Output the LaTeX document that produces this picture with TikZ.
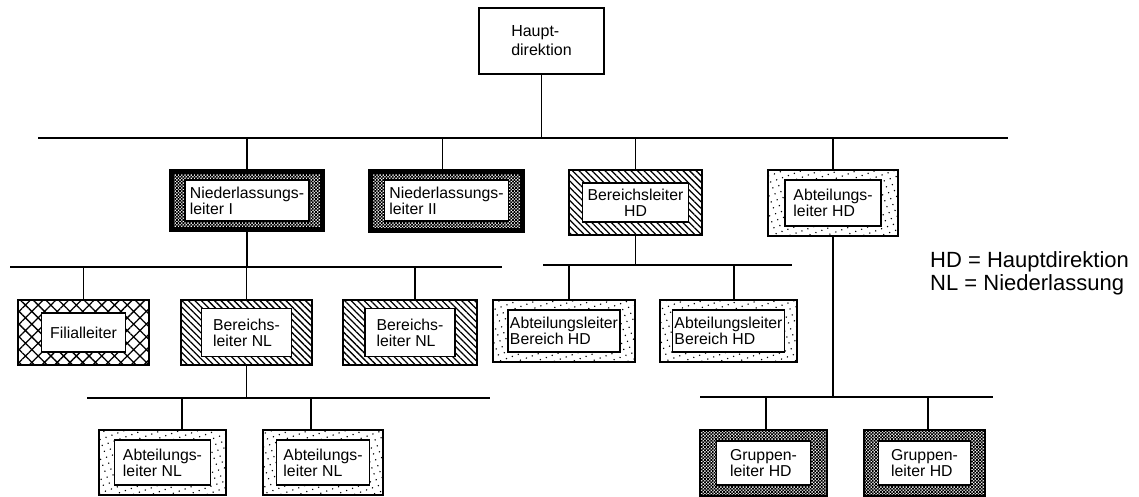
\documentclass[tikz,border=0pt]{standalone}
\usepackage{fontspec}
\setmainfont{Liberation Sans}
\usetikzlibrary{patterns,patterns.meta}

% fine dither used for the dark frames
\pgfdeclarepatternformonly{finechecker}{\pgfqpoint{-.1pt}{-.1pt}}{\pgfqpoint{3.3pt}{3.3pt}}{\pgfqpoint{3.2pt}{3.2pt}}{%
  \pgfpathrectangle{\pgfqpoint{0pt}{0pt}}{\pgfqpoint{1.85pt}{1.85pt}}%
  \pgfpathrectangle{\pgfqpoint{1.6pt}{1.6pt}}{\pgfqpoint{1.85pt}{1.85pt}}%
  \pgfusepath{fill}}

\newcommand\boxfont{\fontsize{15.8}{16.2}\selectfont}
\newcommand\legendfont{\fontsize{22}{23}\selectfont}

\begin{document}
\begin{tikzpicture}[x=1pt,y=-1pt,
  link/.style={line width=1.6pt},
  frame/.style={draw, line width=1.6pt, inner sep=0pt, outer sep=0pt},
  card/.style={draw, fill=white, line width=1.7pt, inner sep=2pt, align=left, font=\boxfont},
  darkframe/.style={frame, line width=5pt, pattern=finechecker},
  greyframe/.style={frame, pattern=finechecker},
  hatchframe/.style={frame, pattern={Lines[angle=-45,distance=4.6pt,line width=1.3pt]}},
  crossframe/.style={frame, pattern={Hatch[angle=45,distance=9pt,line width=1.3pt]}},
  dotframe/.style={frame, pattern={Dots[distance=6.3pt,radius=0.8pt,angle=20]}},
  legend/.style={anchor=base west, inner sep=0pt, font=\legendfont}]
\useasboundingbox (0,0) rectangle (1139,496);

% head office
\node[draw, line width=1.6pt, minimum width=125pt, minimum height=66pt,
      align=left, font=\fontsize{16}{19}\selectfont] (hd) at (541.5,41) {Haupt-\\direktion};

% first level bus
\coordinate (b1w) at (38,138);
\coordinate (b1e) at (1008,138);
\draw[link] (b1w) -- (b1e);
\draw[link] (hd.south) -- (hd.south |- b1w);

% first level
\node[darkframe, minimum width=151pt, minimum height=58pt] (nl1) at (247,200.5) {};
\node[card, minimum width=124pt, minimum height=41pt] (nl1t) at (nl1) {Niederlassungs-\\leiter I};
\node[darkframe, minimum width=152pt, minimum height=59pt] (nl2) at (446.5,200.5) {};
\node[card, minimum width=124pt, minimum height=41pt] (nl2t) at (nl2) {Niederlassungs-\\leiter II};
\node[hatchframe, minimum width=133pt, minimum height=65pt] (bhd) at (635.5,202.5) {};
\node[card, align=center, minimum width=106pt, minimum height=39pt] (bhdt) at (bhd) {Bereichsleiter\\HD};
\node[dotframe, minimum width=130pt, minimum height=66pt] (ahd) at (833,203) {};
\node[card, minimum width=96pt, minimum height=46pt] (ahdt) at (ahd) {Abteilungs-\\leiter HD};

\draw[link] (nl1.north) -- (nl1.north |- b1w);
\draw[link] ([xshift=-4pt]nl2.north) -- ([xshift=-4pt]nl2.north |- b1w);
\draw[link] (bhd.north) -- (bhd.north |- b1w);
\draw[link] (ahd.north) -- (ahd.north |- b1w);

% branch office level
\coordinate (b2w) at (10,267);
\coordinate (b2e) at (502,267);
\draw[link] (b2w) -- (b2e);
\draw[link] (nl1.south) -- (nl1.south |- b2w);

\node[crossframe, minimum width=131pt, minimum height=65pt] (fil) at (83.5,332.5) {};
\node[card, minimum width=84pt, minimum height=39pt] (filt) at (fil) {Filialleiter};
\node[hatchframe, minimum width=131pt, minimum height=65pt] (bnl1) at (246.5,332.5) {};
\node[card, minimum width=90pt, minimum height=48pt] (bnl1t) at (bnl1) {Bereichs-\\leiter NL};
\node[hatchframe, minimum width=134pt, minimum height=65pt] (bnl2) at (410,332.5) {};
\node[card, minimum width=90pt, minimum height=48pt] (bnl2t) at (bnl2) {Bereichs-\\leiter NL};

\draw[link] (fil.north) -- (fil.north |- b2w);
\draw[link] (bnl1.north) -- (bnl1.north |- b2w);
\draw[link] ([xshift=5pt]bnl2.north) -- ([xshift=5pt]bnl2.north |- b2w);

% head office division level
\coordinate (b3w) at (543,265);
\coordinate (b3e) at (792,265);
\draw[link] (b3w) -- (b3e);
\draw[link] (bhd.south) -- (bhd.south |- b3w);

\node[dotframe, minimum width=142pt, minimum height=62pt] (abh1) at (564,331) {};
\node[card, minimum width=112pt, minimum height=42pt] (abh1t) at (abh1) {Abteilungsleiter\\Bereich HD};
\node[dotframe, minimum width=137pt, minimum height=62pt] (abh2) at (728.5,331) {};
\node[card, minimum width=112pt, minimum height=42pt] (abh2t) at (abh2) {Abteilungsleiter\\Bereich HD};

\draw[link] ([xshift=5pt]abh1.north) -- ([xshift=5pt]abh1.north |- b3w);
\draw[link] ([xshift=5.5pt]abh2.north) -- ([xshift=5.5pt]abh2.north |- b3w);

% departments below the branch division
\coordinate (b4w) at (87,398);
\coordinate (b4e) at (490,398);
\draw[link] (b4w) -- (b4e);
\draw[link] (bnl1.south) -- (bnl1.south |- b4w);

\node[dotframe, minimum width=127pt, minimum height=65pt] (anl1) at (162.5,462.5) {};
\node[card, minimum width=96pt, minimum height=45pt] (anl1t) at (anl1) {Abteilungs-\\leiter NL};
\node[dotframe, minimum width=120pt, minimum height=65pt] (anl2) at (323,462.5) {};
\node[card, minimum width=93pt, minimum height=45pt] (anl2t) at (anl2) {Abteilungs-\\leiter NL};

\draw[link] ([xshift=19.5pt]anl1.north) -- ([xshift=19.5pt]anl1.north |- b4w);
\draw[link] ([xshift=-12pt]anl2.north) -- ([xshift=-12pt]anl2.north |- b4w);

% groups below the head office department
\coordinate (b5w) at (700,397);
\coordinate (b5e) at (993,397);
\draw[link] (b5w) -- (b5e);
\draw[link] (ahd.south) -- (ahd.south |- b5w);

\node[greyframe, minimum width=127pt, minimum height=66pt] (gl1) at (763.5,463) {};
\node[card, minimum width=94pt, minimum height=44pt] (gl1t) at (gl1) {Gruppen-\\leiter HD};
\node[greyframe, minimum width=121pt, minimum height=66pt] (gl2) at (924.5,463) {};
\node[card, minimum width=92pt, minimum height=44pt] (gl2t) at (gl2) {Gruppen-\\leiter HD};

\draw[link] ([xshift=2.5pt]gl1.north) -- ([xshift=2.5pt]gl1.north |- b5w);
\draw[link] ([xshift=3.5pt]gl2.north) -- ([xshift=3.5pt]gl2.north |- b5w);

% abbreviations
\node[legend] (lg1) at (930,267) {HD = Hauptdirektion};
\node[legend] (lg2) at (930,290) {NL = Niederlassung};
\end{tikzpicture}
\end{document}
